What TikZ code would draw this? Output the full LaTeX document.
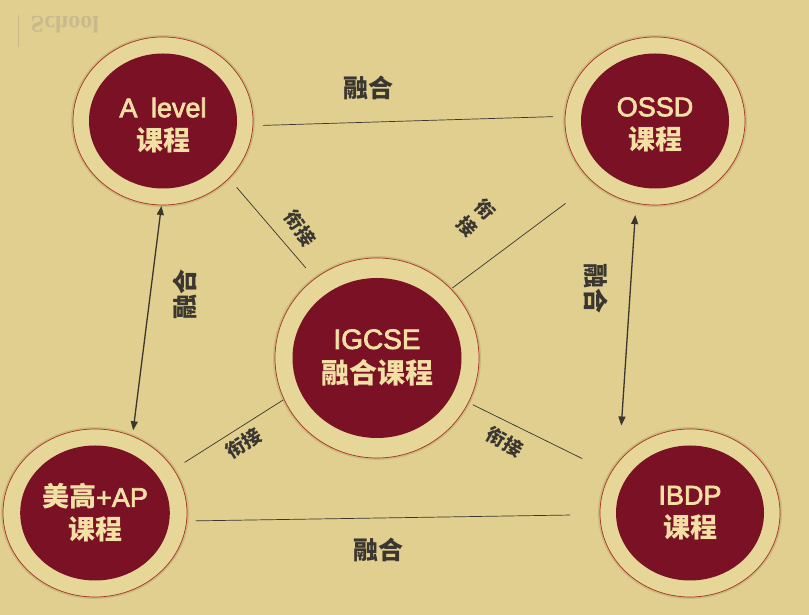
\documentclass[tikz,border=0pt]{standalone}
\usepackage{fontspec}
\setmainfont{Liberation Sans}
\newfontfamily\latinfont{Liberation Sans}[FakeBold=2.6]
\newfontfamily\cjk{Noto Sans CJK SC}
\newfontfamily\markfont{Liberation Serif}
\usepackage{tikz}
\usetikzlibrary{arrows.meta, shapes.geometric, positioning}
\definecolor{paper}{RGB}{224,207,142}
\definecolor{ringfill}{RGB}{230,214,152}
\definecolor{ringline}{RGB}{165,50,42}
\definecolor{ringshade}{RGB}{205,186,122}
\definecolor{wine}{RGB}{122,17,36}
\definecolor{cream}{RGB}{242,224,164}
\definecolor{ink}{RGB}{58,54,48}
\definecolor{faded}{RGB}{200,186,140}
\newcommand{\zh}[1]{{\cjk\bfseries #1}}

\begin{document}
\begin{tikzpicture}[x=1pt, y=1pt, node distance=214pt,
  ring/.style={ellipse, draw=ringline, line width=0.7pt, fill=ringfill,
    preaction={draw=ringshade, line width=4pt},
    inner sep=0pt, outer sep=0pt, minimum width=180pt, minimum height=168pt},
  core/.style={ellipse, fill=wine, text=cream, inner sep=0pt, align=center,
    minimum width=148pt, minimum height=135pt,
    font=\latinfont\fontsize{27pt}{33pt}\selectfont},
  fuse/.style={text=ink, font=\cjk\bfseries\fontsize{25pt}{25pt}\selectfont},
  linklabel/.style={text=ink, align=center, font=\cjk\bfseries\fontsize{19pt}{24pt}\selectfont},
  link/.style={draw=ink, line width=0.7pt},
  both/.style={draw=ink, line width=1.3pt,
    {Triangle[length=9pt,width=7pt]}-{Triangle[length=9pt,width=7pt]}}
]
\fill[paper] (0,0) rectangle (809,615);
\useasboundingbox (0,0) rectangle (809,615);

\node (Mark) [text=faded, yscale=-1, font=\markfont\bfseries\fontsize{24pt}{24pt}\selectfont] at (65,590) {School};
\draw[faded, line width=0.8pt] (18,600) -- (18,568);

\node (IGCSE) [ring, minimum width=204pt, minimum height=200pt] at (377,257) {};
\node (Alevel) [ring, left of=IGCSE, yshift=237pt] {};
\node (OSSD) [ring, right of=IGCSE, xshift=64pt, yshift=237pt] {};
\node (AP) [ring, left of=IGCSE, xshift=-68pt, yshift=-155pt, minimum width=184pt] {};
\node (IBDP) [ring, right of=IGCSE, xshift=99pt, yshift=-155pt] {};

\node (IGCSEin) [core, minimum width=169pt, minimum height=160pt,
  font=\latinfont\fontsize{28pt}{35pt}\selectfont] at (IGCSE) {IGCSE\\\zh{融合课程}};
\node (AlevelIn) [core] at (Alevel) {\rule{0pt}{28pt}A\hspace{0.5em}level\\\zh{课程}};
\node (OSSDin) [core] at (OSSD) {\rule{0pt}{26pt}OSSD\\\zh{课程}};
\node (APin) [core, minimum width=149pt] at (AP) {\zh{美高}+AP\\\zh{课程}};
\node (IBDPin) [core] at (IBDP) {IBDP\\\zh{课程}};

\draw[link, shorten <=10pt, shorten >=12pt] (Alevel.-3) -- (OSSD.177);
\draw[link, shorten <=9pt, shorten >=30pt] (AP.-5) -- (IBDP.181);
\draw[both, shorten <=1pt, shorten >=6pt] (Alevel.-91) -- (AP.64);
\draw[both, shorten <=12pt, shorten >=36pt] (OSSD.-103) -- (IBDP.144);
\draw[link, shorten <=12pt, shorten >=14pt] (Alevel.-41) -- (IGCSE.128);
\draw[link, shorten <=2pt, shorten >=35pt] (IGCSE.43) -- (OSSD.-135);
\draw[link, shorten <=13pt, shorten >=1pt] (AP.29) -- (IGCSE.-156);
\draw[link, shorten <=5pt, shorten >=32pt] (IGCSE.-26) -- (IBDP.153);

\node (FuseTop) [fuse] at (368,527) {融合};
\node (FuseBot) [fuse] at (378,65) {融合};
\node (FuseLeft) [fuse, rotate=90] at (185,320) {融合};
\node (FuseRight) [fuse, rotate=-90] at (596,326) {融合};
\node (JoinTL) [linklabel, rotate=-56] at (300,387) {衔接};
\node (JoinTR) [linklabel, rotate=-47] at (476,397) {衔\\接};
\node (JoinBL) [linklabel, rotate=32] at (244,172) {衔接};
\node (JoinBR) [linklabel, rotate=-30] at (505,173) {衔接};
\end{tikzpicture}
\end{document}
